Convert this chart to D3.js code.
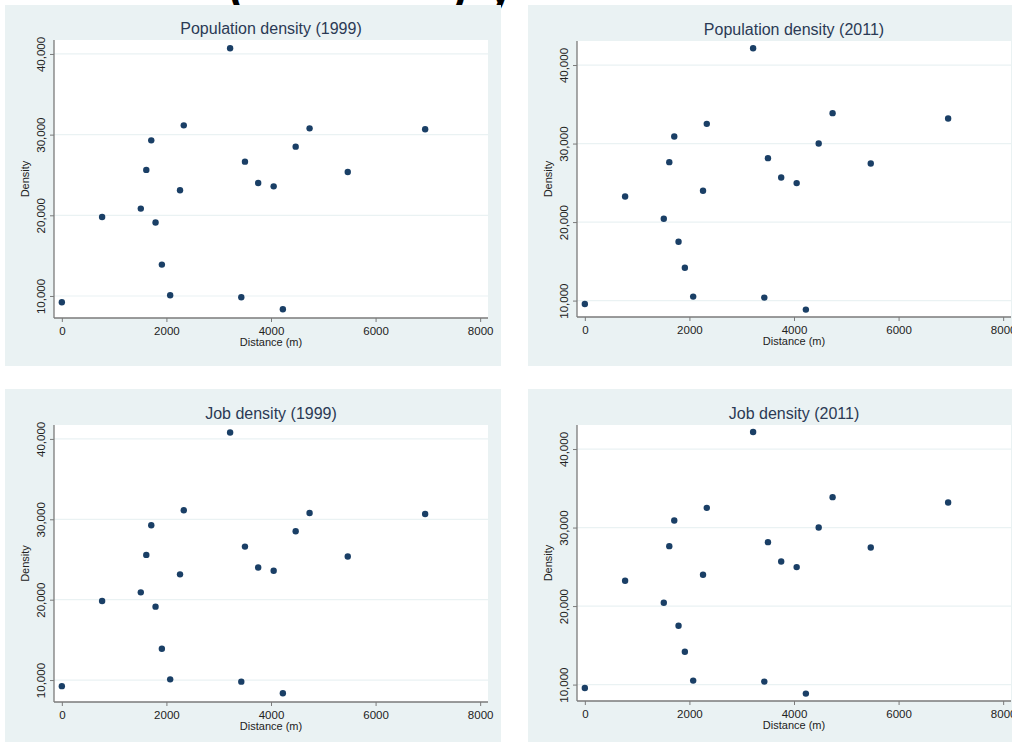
<!DOCTYPE html>
<html>
<head>
<meta charset="utf-8">
<script src="https://cdn.jsdelivr.net/npm/d3@7"></script>
<style>
  html, body { margin: 0; padding: 0; background: #ffffff; }
  svg { display: block; }
</style>
</head>
<body>
<svg id="chart" width="1012" height="742"></svg>
<script>
// distances (m) shared by every panel
const distance = [0, 770, 1510, 1615, 1710, 1792, 1913, 2072, 2260, 2332,
                  3218, 3432, 3502, 3755, 4051, 4227, 4472, 4738, 5468, 6948];

const popDensity1999 = [9220, 19790, 20830, 25630, 29290, 19100, 13890, 10090, 23100, 31150,
                        40710, 9840, 26650, 24000, 23590, 8350, 28510, 30780, 25370, 30660];
const popDensity2011 = [9570, 23250, 20420, 27630, 30890, 17490, 14180, 10510, 23980, 32510,
                        42130, 10380, 28140, 25670, 24960, 8850, 30000, 33870, 27450, 33190];
const jobDensity1999 = [9240, 19830, 20910, 25570, 29250, 19130, 13900, 10090, 23150, 31120,
                        40800, 9800, 26600, 24000, 23590, 8350, 28510, 30780, 25370, 30660];
const jobDensity2011 = [9570, 23230, 20420, 27630, 30890, 17490, 14180, 10510, 23980, 32510,
                        42170, 10380, 28140, 25670, 24960, 8850, 30000, 33870, 27450, 33190];

const panelTitles = ["Population density (1999)", "Population density (2011)",
                     "Job density (1999)", "Job density (2011)"];
const xTicks = [0, 2000, 4000, 6000, 8000];
const yTicks = [10000, 20000, 30000, 40000];

const svg = d3.select("#chart");
const fontFamily = "'Liberation Sans', Arial, sans-serif";

// cut-off heading above the panels (only the descenders are visible)
const heading = svg.append("g")
  .attr("font-family", fontFamily)
  .attr("font-weight", "bold")
  .attr("font-size", 44)
  .attr("fill", "#000");
heading.append("text").attr("x", 229).attr("y", 3).text("(");
heading.append("text").attr("x", 452).attr("y", 3).text(")");
heading.append("text").attr("x", 488).attr("y", 3).text("y");

// layout of the four graphs
const panels = [
  { title: panelTitles[0], values: popDensity1999, bg: [5, 5, 496, 361],  plot: [54, 40, 488, 318],   yDomain: [7270, 41730] },
  { title: panelTitles[1], values: popDensity2011, bg: [528, 5, 496, 361], plot: [577, 41, 1011, 317], yDomain: [7910, 43060] },
  { title: panelTitles[2], values: jobDensity1999, bg: [5, 389, 496, 360], plot: [54, 425, 488, 702], yDomain: [7270, 41730] },
  { title: panelTitles[3], values: jobDensity2011, bg: [528, 389, 496, 360], plot: [577, 425, 1011, 701], yDomain: [7910, 43060] }
];

panels.forEach(p => drawPanel(p));

function drawPanel(p) {
  const [left, top, right, bottom] = p.plot;
  const g = svg.append("g").attr("font-family", fontFamily);

  g.append("rect")
    .attr("x", p.bg[0]).attr("y", p.bg[1])
    .attr("width", p.bg[2]).attr("height", p.bg[3])
    .attr("fill", "#eaf2f3");

  g.append("rect")
    .attr("x", left).attr("y", top)
    .attr("width", right - left).attr("height", bottom - top)
    .attr("fill", "#ffffff");

  const x = d3.scaleLinear().domain([-150, 8150]).range([left, right]);
  const y = d3.scaleLinear().domain(p.yDomain).range([bottom, top]);

  // horizontal grid
  g.append("g")
    .selectAll("line")
    .data(yTicks)
    .join("line")
    .attr("x1", left).attr("x2", right)
    .attr("y1", d => y(d)).attr("y2", d => y(d))
    .attr("stroke", "#eaf2f3")
    .attr("stroke-width", 1.2);

  // x axis
  const xAxis = g.append("g")
    .attr("transform", `translate(0,${bottom})`)
    .call(d3.axisBottom(x).tickValues(xTicks).tickFormat(d3.format("d")).tickSize(4).tickPadding(5).tickSizeOuter(0));
  xAxis.select(".domain").attr("stroke", "#7a7a7a").attr("stroke-width", 1.3)
    .attr("d", `M${left},0H${right}`);
  xAxis.selectAll(".tick line").attr("stroke", "#7a7a7a");
  xAxis.selectAll(".tick text")
    .attr("fill", "#222")
    .attr("font-size", 11.5)
    .attr("font-family", fontFamily);

  // y axis
  const yAxis = g.append("g")
    .attr("transform", `translate(${left},0)`)
    .call(d3.axisLeft(y).tickValues(yTicks).tickFormat(d3.format(",")).tickSize(4).tickSizeOuter(0));
  yAxis.select(".domain").attr("stroke", "#7a7a7a").attr("stroke-width", 1.3)
    .attr("d", `M0,${top}V${bottom}`);
  yAxis.selectAll(".tick line").attr("stroke", "#7a7a7a");
  yAxis.selectAll(".tick text")
    .attr("fill", "#222")
    .attr("font-size", 11.5)
    .attr("font-family", fontFamily)
    .attr("x", null).attr("dy", null)
    .attr("text-anchor", "middle")
    .attr("transform", "translate(-9,0) rotate(-90)");

  // axis titles
  g.append("text")
    .attr("x", (left + right) / 2)
    .attr("y", bottom + 28)
    .attr("text-anchor", "middle")
    .attr("font-size", 11)
    .attr("fill", "#222")
    .text("Distance (m)");

  g.append("text")
    .attr("transform", `translate(${left - 25},${(top + bottom) / 2}) rotate(-90)`)
    .attr("text-anchor", "middle")
    .attr("font-size", 11)
    .attr("fill", "#222")
    .text("Density");

  // panel title
  g.append("text")
    .attr("x", (left + right) / 2)
    .attr("y", top - 6.5)
    .attr("text-anchor", "middle")
    .attr("font-size", 16)
    .attr("fill", "#2b3a55")
    .text(p.title);

  // markers
  g.append("g")
    .selectAll("circle")
    .data(distance.map((d, i) => ({ dist: d, dens: p.values[i] })))
    .join("circle")
    .attr("cx", d => x(d.dist))
    .attr("cy", d => y(d.dens))
    .attr("r", 3.2)
    .attr("fill", "#1a3f66");
}
</script>
</body>
</html>
